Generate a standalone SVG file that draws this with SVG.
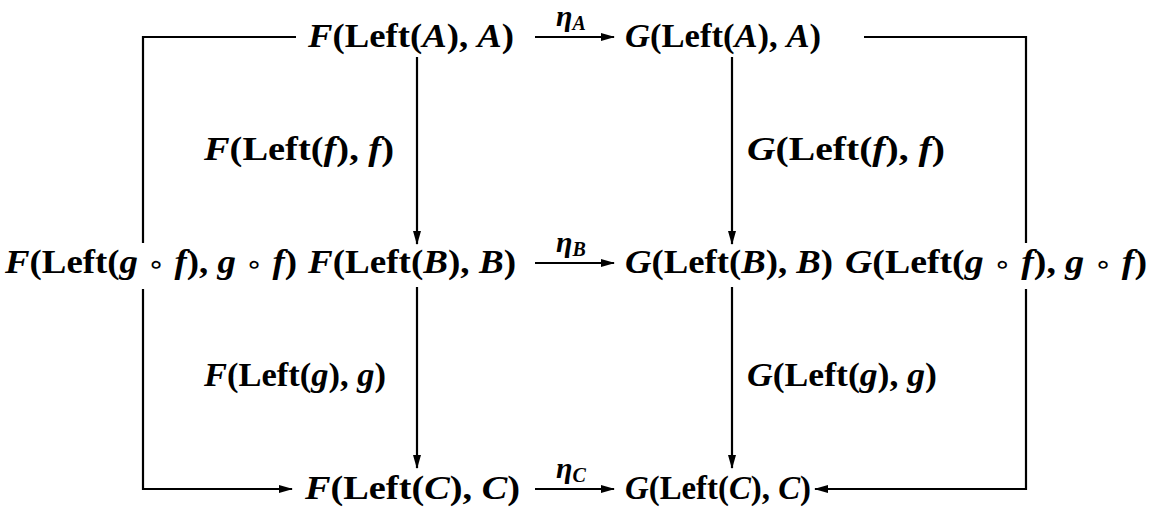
<svg xmlns="http://www.w3.org/2000/svg" width="1154" height="510" viewBox="0 0 1154 510">
<style>
.t{font-family:"Liberation Serif",serif;font-size:33px;font-weight:bold;fill:#000}
.i{font-style:italic}
.o{font-family:"DejaVu Sans",sans-serif;font-weight:normal;font-size:26px}
.e{font-family:"Liberation Serif",serif;font-size:30px;font-weight:bold;font-style:italic;fill:#000}
.s{font-size:20px}
.c{fill:none;stroke:#000;stroke-width:2.2}
</style>
<defs>
<marker id="ah" viewBox="0 0 14 10" refX="13" refY="5" markerWidth="14" markerHeight="10" markerUnits="userSpaceOnUse" orient="auto">
<path d="M0,1 L14,5 L0,9 Z" fill="#000"/>
</marker>
</defs>
<rect width="1154" height="510" fill="#fff"/>
<g id="connectors">
<path class="c" d="M296,37 H143 V243"/>
<path class="c" d="M143,289 V489 H292" marker-end="url(#ah)"/>
<path class="c" d="M864,37 H1026 V243"/>
<path class="c" d="M1026,289 V489 H815" marker-end="url(#ah)"/>
<path class="c" d="M417,57 V244" marker-end="url(#ah)"/>
<path class="c" d="M417,287 V468" marker-end="url(#ah)"/>
<path class="c" d="M732,57 V244" marker-end="url(#ah)"/>
<path class="c" d="M732,287 V468" marker-end="url(#ah)"/>
<path class="c" d="M535,37 H614" marker-end="url(#ah)"/>
<path class="c" d="M535,263 H614" marker-end="url(#ah)"/>
<path class="c" d="M535,489 H614" marker-end="url(#ah)"/>
</g>
<g id="eta-labels">
<text class="e" x="556" y="26">η<tspan class="s" dy="4">A</tspan></text>
<text class="e" x="556" y="252">η<tspan class="s" dy="4">B</tspan></text>
<text class="e" x="556" y="478">η<tspan class="s" dy="4">C</tspan></text>
</g>
<g id="n-FA"><text class="t" x="308" y="47" textLength="206" lengthAdjust="spacingAndGlyphs"><tspan class="i">F</tspan>(Left(<tspan class="i">A</tspan>), <tspan class="i">A</tspan>)</text></g>
<g id="n-GA"><text class="t" x="625" y="47" textLength="196" lengthAdjust="spacingAndGlyphs"><tspan class="i">G</tspan>(Left(<tspan class="i">A</tspan>), <tspan class="i">A</tspan>)</text></g>
<g id="n-Fgf"><text class="t" x="5" y="273" textLength="292" lengthAdjust="spacingAndGlyphs"><tspan class="i">F</tspan>(Left(<tspan class="i">g</tspan> <tspan class="o">∘</tspan> <tspan class="i">f</tspan>), <tspan class="i">g</tspan> <tspan class="o">∘</tspan> <tspan class="i">f</tspan>)</text></g>
<g id="n-FB"><text class="t" x="308" y="273" textLength="208" lengthAdjust="spacingAndGlyphs"><tspan class="i">F</tspan>(Left(<tspan class="i">B</tspan>), <tspan class="i">B</tspan>)</text></g>
<g id="n-GB"><text class="t" x="625" y="273" textLength="208" lengthAdjust="spacingAndGlyphs"><tspan class="i">G</tspan>(Left(<tspan class="i">B</tspan>), <tspan class="i">B</tspan>)</text></g>
<g id="n-Ggf"><text class="t" x="845" y="273" textLength="302" lengthAdjust="spacingAndGlyphs"><tspan class="i">G</tspan>(Left(<tspan class="i">g</tspan> <tspan class="o">∘</tspan> <tspan class="i">f</tspan>), <tspan class="i">g</tspan> <tspan class="o">∘</tspan> <tspan class="i">f</tspan>)</text></g>
<g id="n-FC"><text class="t" x="305" y="499" textLength="215" lengthAdjust="spacingAndGlyphs"><tspan class="i">F</tspan>(Left(<tspan class="i">C</tspan>), <tspan class="i">C</tspan>)</text></g>
<g id="n-GC"><text class="t" x="625" y="499" textLength="186" lengthAdjust="spacingAndGlyphs"><tspan class="i">G</tspan>(Left(<tspan class="i">C</tspan>), <tspan class="i">C</tspan>)</text></g>
<g id="l-Ff"><text class="t" x="204" y="160" textLength="190" lengthAdjust="spacingAndGlyphs"><tspan class="i">F</tspan>(Left(<tspan class="i">f</tspan>), <tspan class="i">f</tspan>)</text></g>
<g id="l-Gf"><text class="t" x="747" y="160" textLength="198" lengthAdjust="spacingAndGlyphs"><tspan class="i">G</tspan>(Left(<tspan class="i">f</tspan>), <tspan class="i">f</tspan>)</text></g>
<g id="l-Fg"><text class="t" x="204" y="386" textLength="182" lengthAdjust="spacingAndGlyphs"><tspan class="i">F</tspan>(Left(<tspan class="i">g</tspan>), <tspan class="i">g</tspan>)</text></g>
<g id="l-Gg"><text class="t" x="747" y="386" textLength="190" lengthAdjust="spacingAndGlyphs"><tspan class="i">G</tspan>(Left(<tspan class="i">g</tspan>), <tspan class="i">g</tspan>)</text></g>
</svg>
